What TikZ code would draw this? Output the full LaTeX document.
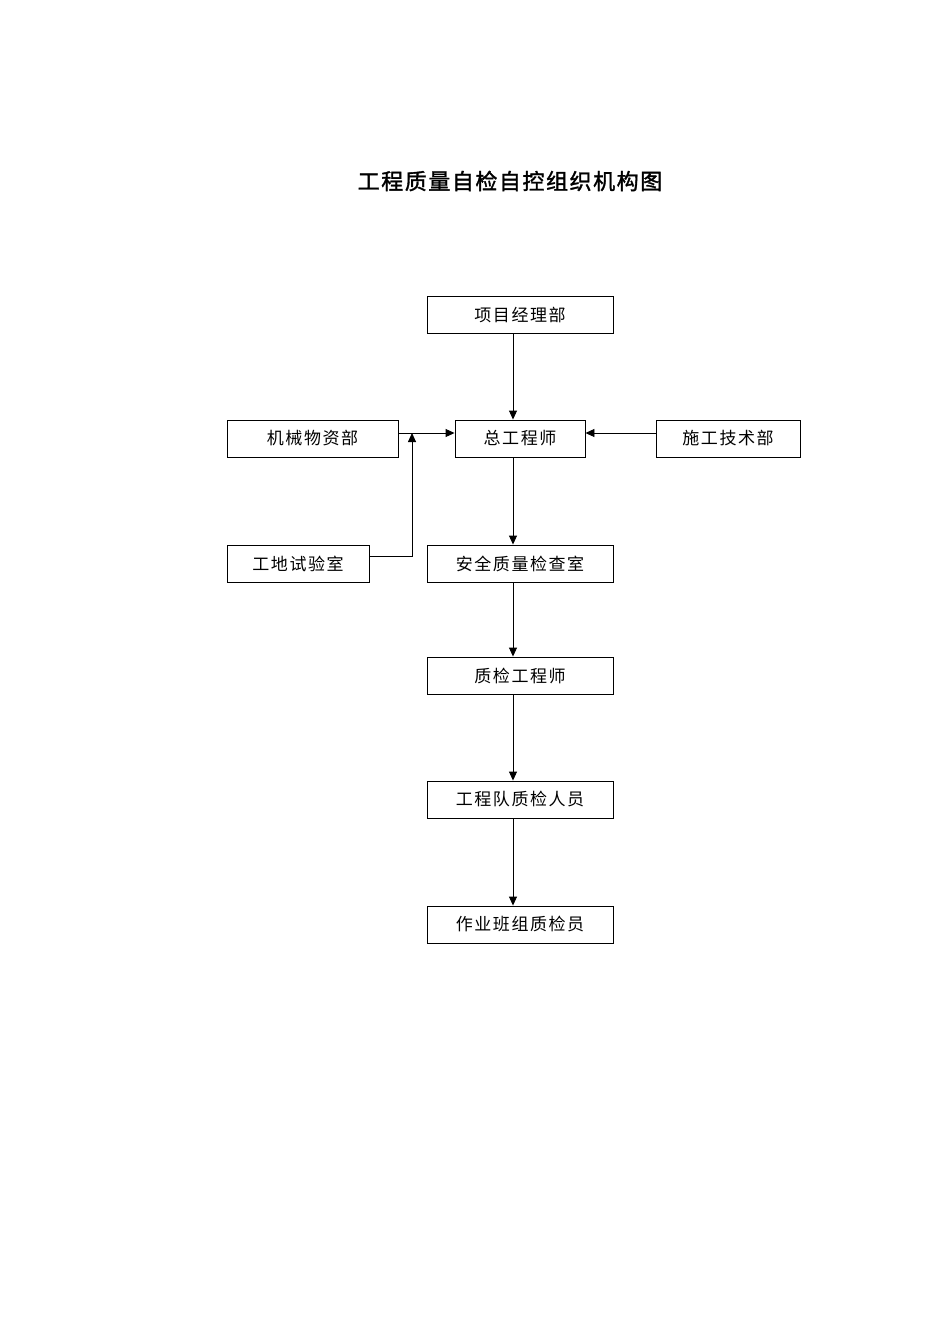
\documentclass[tikz,border=0pt]{standalone}
\usepackage{fontspec}
\newfontfamily\cjk[LetterSpace=9]{Noto Sans CJK SC}
\newfontfamily\cjktitle[LetterSpace=7,FakeBold=1.5]{Noto Sans CJK SC}
\usetikzlibrary{arrows.meta}
\begin{document}
\begin{tikzpicture}[x=1pt,y=-1pt,
  box/.style={draw,line width=0.9pt,minimum height=37pt,inner sep=0pt,font=\cjk\fontsize{17}{17}\selectfont},
  conn/.style={line width=0.9pt,-{Triangle[length=9pt,width=8pt]}}]
\useasboundingbox (0,0) rectangle (950,1344);
\node[font=\cjktitle\fontsize{22}{22}\selectfont] (title) at (510,181) {工程质量自检自控组织机构图};
\node[box,minimum width=186pt] (pm) at (520,314.5) {项目经理部};
\node[box,minimum width=130pt] (ce) at (520,438.5) {总工程师};
\node[box,minimum width=171pt] (jx) at (312.5,438.5) {机械物资部};
\node[box,minimum width=144pt] (sg) at (728,438.5) {施工技术部};
\node[box,minimum width=142pt] (gd) at (298,563.5) {工地试验室};
\node[box,minimum width=186pt] (aq) at (520,563.5) {安全质量检查室};
\node[box,minimum width=186pt] (zj) at (520,675.5) {质检工程师};
\node[box,minimum width=186pt] (gc) at (520,799.5) {工程队质检人员};
\node[box,minimum width=186pt] (zy) at (520,924.5) {作业班组质检员};
\coordinate (cx) at (513,0);
\coordinate (ay) at (0,433);
\coordinate (jn) at (412,433);
\draw[conn] (pm.south -| cx) -- (ce.north -| cx);
\draw[conn] (ce.south -| cx) -- (aq.north -| cx);
\draw[conn] (aq.south -| cx) -- (zj.north -| cx);
\draw[conn] (zj.south -| cx) -- (gc.north -| cx);
\draw[conn] (gc.south -| cx) -- (zy.north -| cx);
\draw[conn] (jx.east |- ay) -- (ce.west |- ay);
\draw[conn] (sg.west |- ay) -- (ce.east |- ay);
\draw[conn] (gd.east |- 0,556) -| (jn);
\end{tikzpicture}
\end{document}
